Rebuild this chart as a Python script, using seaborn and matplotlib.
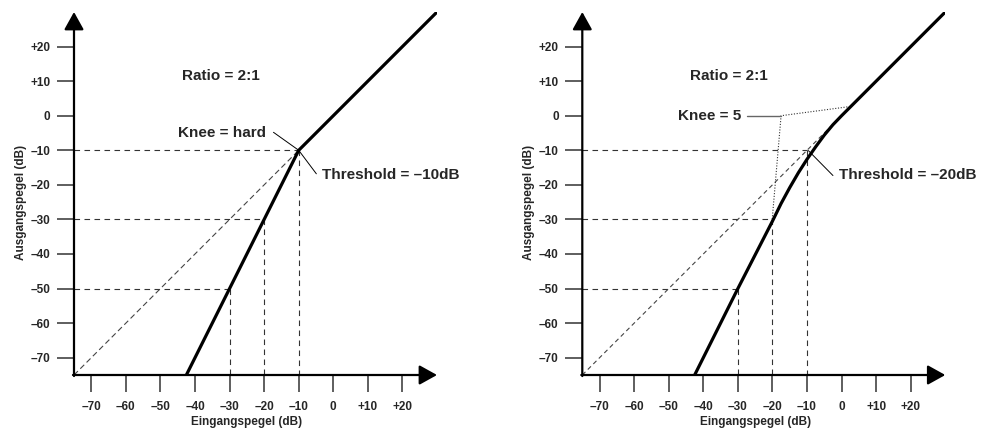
import matplotlib
matplotlib.use('Agg')
import matplotlib.pyplot as plt
import seaborn as sns
import pandas as pd

sns.set_style('white')
plt.rcParams['font.family'] = ['Liberation Sans', 'DejaVu Sans']

# ---- data ----
tick_values = [-70, -60, -50, -40, -30, -20, -10, 0, 10, 20]
tick_labels = ['–70', '–60', '–50', '–40', '–30', '–20', '–10', '0', '+10', '+20']

hard_in = [-42.5, -10, 30]
hard_out = [-75, -10, 30]

soft_in = [-42.5, -30, -20, -17.5, -15, -12.5, -10, -7.5, -5, -2.5, 0, 30]
soft_out = [-75, -50, -30.5, -25.4, -20.8, -16.5, -12.6, -9.0, -5.6, -2.6, 0, 30]

guide_in = [-30, -20, -10]
guide_out = [-50, -30, -10]

diag_end_left = -10
diag_end_right = -3

knee_points_in = [-20.2, -17.5, 2.0]
knee_points_out = [-31.5, 0.0, 2.6]

LO, HI = -75, 30

fig = plt.figure(figsize=(9.87, 4.30), dpi=100)
W = 363 / 987
H = 363 / 430
B = (430 - 375) / 430
ax1 = fig.add_axes([74 / 987, B, W, H])
ax2 = fig.add_axes([582.3 / 987, B, W, H])


def base(ax):
    ax.set_xlim(LO, HI)
    ax.set_ylim(LO, HI)
    for s in ax.spines.values():
        s.set_visible(False)
    ax.set_facecolor('none')
    ax.set_xticks(tick_values)
    ax.set_xticklabels(tick_labels, fontweight='bold', fontsize=8.5)
    ax.set_yticks(tick_values)
    ax.set_yticklabels(tick_labels, fontweight='bold', fontsize=8.5)
    ax.tick_params(axis='both', direction='out', length=12, width=1.1,
                   color='#333333', bottom=True, left=True)
    ax.tick_params(axis='x', pad=7)
    ax.tick_params(axis='y', pad=5)
    # axis arrows
    ap = dict(arrowstyle='-|>,head_length=0.9,head_width=0.5', mutation_scale=12,
              lw=1.6, color='black', shrinkA=0, shrinkB=0)
    ax.annotate('', xy=(HI, LO), xytext=(LO - 0.3, LO), arrowprops=ap, annotation_clip=False)
    ax.annotate('', xy=(LO, HI), xytext=(LO, LO - 0.3), arrowprops=ap, annotation_clip=False)
    # guides
    for gx, gy in zip(guide_in, guide_out):
        ax.plot([LO, gx], [gy, gy], color='#333333', lw=0.8, dashes=(5, 4))
        ax.plot([gx, gx], [gy, LO], color='#333333', lw=0.8, dashes=(5, 4))
    ax.text((-25 - LO) / (HI - LO), -0.130, 'Eingangspegel (dB)', transform=ax.transAxes,
            ha='center', va='center', fontsize=8.5, fontweight='bold')
    ax.text(-0.147, (-25 - LO) / (HI - LO), 'Ausgangspegel (dB)', transform=ax.transAxes,
            ha='center', va='center', rotation=90, fontsize=8.5, fontweight='bold')
    ax.text(-32.6, 11.5, 'Ratio = 2:1', ha='center', va='center', fontsize=11, fontweight='bold')


# ---- left panel ----
base(ax1)
ax1.plot([LO, diag_end_left], [LO, diag_end_left], color='#444444', lw=0.8, dashes=(5, 3))
sns.lineplot(x=hard_in, y=hard_out, ax=ax1, color='black', lw=2.3, sort=False, estimator=None)
ax1.plot([-17.3, -10, -4.9], [-4.8, -10, -16.8], color='black', lw=0.7)
ax1.text(-19.4, -5.0, 'Knee = hard', ha='right', va='center', fontsize=11, fontweight='bold')
ax1.text(-3.2, -17.2, 'Threshold = –10dB', ha='left', va='center', fontsize=11, fontweight='bold')

# ---- right panel ----
base(ax2)
ax2.plot([LO, diag_end_right], [LO, diag_end_right], color='#444444', lw=0.8, dashes=(4, 3))
ax2.plot(knee_points_in, knee_points_out, color='#333333', lw=0.8, ls=(0, (1, 1.5)))
sns.lineplot(x=soft_in, y=soft_out, ax=ax2, color='black', lw=2.3, sort=False, estimator=None)
ax2.plot([-27.3, -17.5], [0, 0], color='#666666', lw=1.0)
ax2.plot([-9.6, -2.5], [-10.1, -17.3], color='black', lw=0.7)
ax2.text(-29.0, 0.0, 'Knee = 5', ha='right', va='center', fontsize=11, fontweight='bold')
ax2.text(-0.8, -17.2, 'Threshold = –20dB', ha='left', va='center', fontsize=11, fontweight='bold')

fig.savefig('out.png', dpi=100)
